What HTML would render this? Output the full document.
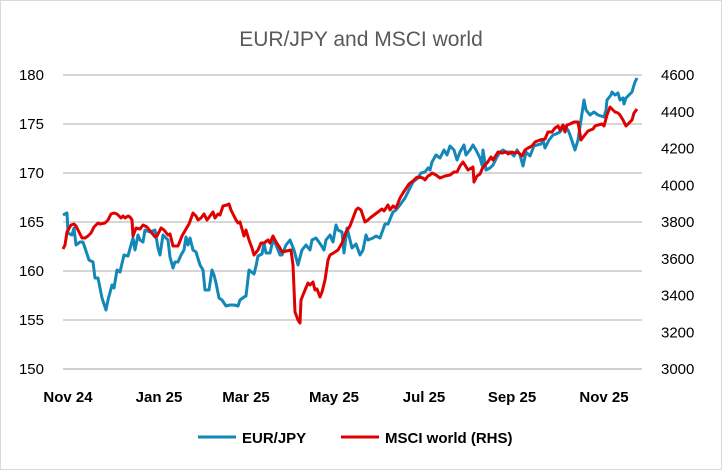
<!DOCTYPE html>
<html><head><meta charset="utf-8"><style>
body{margin:0;background:#fff;}
svg{display:block;font-family:"Liberation Sans",sans-serif;}
</style></head><body>
<svg width="722" height="470" viewBox="0 0 722 470">
<rect x="0.5" y="0.5" width="721" height="469" fill="#fff" stroke="#d9d9d9"/>
<text x="361" y="46" text-anchor="middle" font-size="21" fill="#595959">EUR/JPY and MSCI world</text>
<g stroke="#c8c8c8" stroke-width="1.5">
<line x1="63" x2="642" y1="75" y2="75"/><line x1="63" x2="642" y1="124" y2="124"/>
<line x1="63" x2="642" y1="173" y2="173"/><line x1="63" x2="642" y1="222" y2="222"/>
<line x1="63" x2="642" y1="271" y2="271"/><line x1="63" x2="642" y1="320" y2="320"/>
</g>
<line x1="63" x2="642" y1="369" y2="369" stroke="#bfbfbf" stroke-width="1.5"/>
<g font-size="15" fill="#000" text-anchor="end">
<text x="44" y="80">180</text><text x="44" y="129">175</text><text x="44" y="178">170</text>
<text x="44" y="227">165</text><text x="44" y="276">160</text><text x="44" y="325">155</text><text x="44" y="374">150</text>
</g>
<g font-size="15" fill="#000" text-anchor="start">
<text x="661" y="80">4600</text><text x="661" y="116.8">4400</text><text x="661" y="153.5">4200</text>
<text x="661" y="190.3">4000</text><text x="661" y="227">3800</text><text x="661" y="263.8">3600</text>
<text x="661" y="300.5">3400</text><text x="661" y="337.3">3200</text><text x="661" y="374">3000</text>
</g>
<g font-size="15" fill="#000" text-anchor="middle" font-weight="bold">
<text x="68" y="402">Nov 24</text><text x="159" y="402">Jan 25</text><text x="246" y="402">Mar 25</text>
<text x="334" y="402">May 25</text><text x="424" y="402">Jul 25</text><text x="512" y="402">Sep 25</text><text x="604" y="402">Nov 25</text>
</g>
<polyline fill="none" stroke="#1287b8" stroke-width="3" stroke-linejoin="round" points="63,215 67,213 68,233 72,235 74,228 76,245 80,242 83,242 89,260 93,262 95,278 98,278 102,298 106,310 108,300 112,285 114,288 117,270 120,272 124,255 128,256 131,245 133,238 135,250 138,235 140,240 143,242 145,230 150,232 155,230 158,248 160,255 163,235 168,240 170,257 173,268 175,262 178,262 181,255 184,250 186,237 188,245 190,238 193,250 196,252 200,265 203,270 205,290 209,290 212,270 214,275 216,283 219,298 222,300 226,306 230,305 234,305 238,306 240,300 244,297 246,296 249,270 254,274 256,266 258,256 262,254 264,243 266,253 270,253 273,240 276,245 280,255 282,255 286,245 290,240 294,250 298,265 302,250 306,245 310,250 312,240 316,238 321,245 324,250 326,240 330,235 333,242 336,225 338,230 342,232 344,253 347,228 352,248 356,244 360,255 363,250 366,235 368,240 373,238 376,236 380,238 385,224 388,224 393,212 396,210 400,205 405,198 410,188 413,182 418,178 421,173 425,172 428,168 430,170 432,162 436,155 440,158 444,150 447,155 450,146 454,150 457,160 460,152 464,145 466,155 470,150 473,145 476,150 480,158 482,165 483,150 486,170 490,168 493,165 497,157 500,152 503,150 506,152 510,152 514,156 517,150 520,155 523,166 526,152 530,156 534,146 537,145 541,144 543,140 545,148 549,140 553,135 556,134 560,132 564,126 568,130 570,135 575,150 578,140 581,120 584,100 586,110 590,115 594,112 598,115 604,117 606,110 607,100 611,95 612,92 615,95 618,93 620,100 623,98 624,104 626,98 630,94 632,92 634,85 635,82 637,78"/>
<polyline fill="none" stroke="#e00000" stroke-width="3" stroke-linejoin="round" points="63,249 65,245 67,232 71,225 74,224 76,226 79,232 82,238 85,238 88,236 91,233 94,227 98,223 100,224 105,223 108,220 111,214 114,213 117,214 121,218 123,216 125,218 128,216 130,217 132,220 133,236 136,228 140,229 143,225 147,227 151,232 155,237 157,236 161,228 164,230 168,235 170,234 173,246 178,246 182,236 186,229 189,224 193,213 196,216 198,220 201,218 204,214 207,220 210,216 213,212 215,218 218,214 220,215 223,206 227,205 229,204 231,210 234,216 236,220 238,223 240,222 244,236 246,230 249,240 252,248 254,255 258,250 261,243 264,243 268,240 270,243 273,236 275,240 278,245 280,248 282,252 291,250 293,265 295,312 298,320 300,323 301,300 305,290 308,283 310,285 313,282 315,290 317,289 320,297 322,292 325,280 328,260 330,255 335,252 338,250 342,243 346,232 350,226 353,218 356,210 358,208 361,210 365,222 368,220 370,218 374,215 378,212 382,209 384,211 388,205 390,210 393,206 396,208 400,198 403,193 405,190 409,184 413,181 416,178 418,177 423,178 425,180 428,176 430,175 432,173 436,175 440,178 445,176 450,175 454,172 457,172 460,166 463,162 465,165 468,170 473,167 474,182 477,176 480,174 483,167 487,163 489,160 491,157 493,160 498,152 502,153 506,152 508,154 512,152 515,153 518,152 522,156 525,150 528,148 532,146 535,142 540,140 545,139 548,132 552,132 555,128 558,126 560,130 563,125 565,132 567,125 570,124 574,122 578,122 581,140 584,136 588,131 593,129 595,126 598,125 602,124 604,126 607,115 610,107 613,110 615,112 618,113 620,115 623,120 626,126 628,124 632,120 634,113 637,109"/>
<line x1="198" x2="236" y1="437" y2="437" stroke="#1287b8" stroke-width="3"/>
<text x="242" y="443" font-size="15" font-weight="bold" fill="#000">EUR/JPY</text>
<line x1="341" x2="379" y1="437" y2="437" stroke="#e00000" stroke-width="3"/>
<text x="385" y="443" font-size="15" font-weight="bold" fill="#000">MSCI world (RHS)</text>
</svg>
</body></html>
